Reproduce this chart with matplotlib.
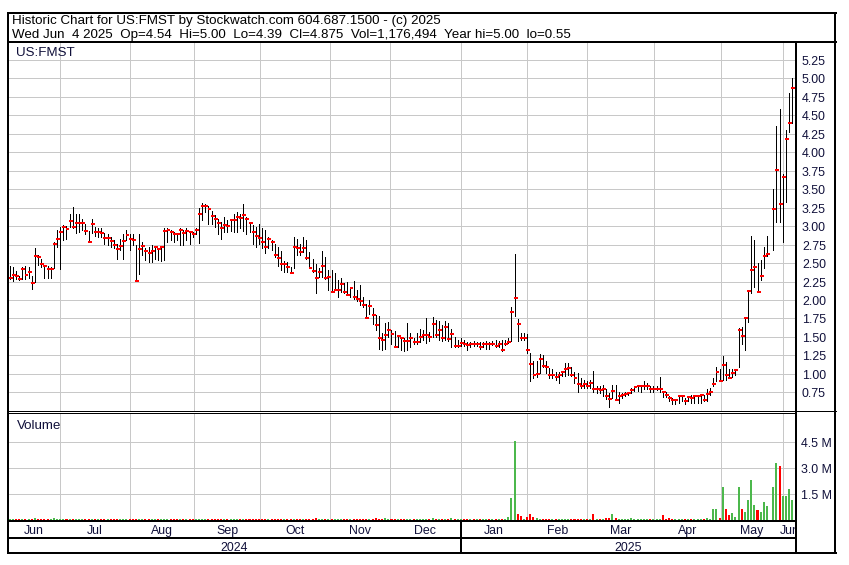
import numpy as np
import matplotlib
matplotlib.use("Agg")
import matplotlib.pyplot as plt
from matplotlib.transforms import blended_transform_factory, offset_copy

plt.rcParams['font.family'] = ['Liberation Sans', 'DejaVu Sans']

nan = float('nan')

# ---------------- data (one bar per trading day, Jun 2024 - Jun 4 2025) ----------------
highs = [
    2.46, 2.44, 2.39, 2.33, 2.45, 2.46, 2.45, 2.32, 2.70, 2.61,
    2.55, 2.48, 2.46, 2.45, 2.79, 2.95, 2.99, 3.01, 3.00, 3.16,
    3.26, 3.16, 3.16, 3.10, 3.03, 2.94, 3.10, 2.99, 2.98, 2.97,
    2.91, 2.89, 2.85, 2.81, 2.76, 2.82, 2.90, 2.95, 2.89, 2.90,
    2.74, 2.90, 2.79, 2.71, 2.72, 2.74, 2.72, 2.71, 2.73, 2.97,
    2.97, 2.95, 2.92, 2.91, 2.97, 2.95, 2.97, 2.94, 2.92, 2.97,
    3.24, 3.31, 3.30, 3.27, 3.21, 3.15, 3.10, 3.06, 3.12, 3.08,
    3.10, 3.17, 3.19, 3.17, 3.30, 3.12, 3.03, 3.01, 2.99, 3.03,
    2.97, 2.95, 2.85, 2.81, 2.76, 2.72, 2.66, 2.53, 2.52, 2.45,
    2.85, 2.83, 2.76, 2.85, 2.81, 2.65, 2.55, 2.49, 2.43, 2.66,
    2.58, 2.40, 2.40, 2.36, 2.27, 2.30, 2.23, 2.25, 2.18, 2.26,
    2.14, 2.20, 2.04, 1.95, 2.00, 1.89, 1.80, 1.78, 1.55, 1.69,
    1.70, 1.59, 1.58, 1.52, 1.50, 1.48, 1.69, 1.55, 1.48, 1.55,
    1.61, 1.59, 1.75, 1.57, 1.77, 1.73, 1.71, 1.66, 1.71, 1.69,
    1.61, 1.50, 1.46, 1.48, 1.46, 1.43, 1.43, 1.44, 1.43, 1.43,
    1.43, 1.44, 1.43, 1.44, 1.46, 1.45, 1.46, 1.46, 1.48, 1.91,
    2.62, 1.74, 1.55, 1.55, 1.54, 1.28, 1.17, 1.17, 1.27, 1.26,
    1.17, 1.08, 1.06, 1.03, 1.03, 1.04, 1.15, 1.15, 1.10, 1.03,
    1.01, 0.94, 0.92, 0.90, 0.92, 1.04, 0.83, 0.83, 0.85, 0.79,
    0.74, 0.85, 0.85, 0.76, 0.74, 0.76, 0.76, 0.81, 0.83, 0.85,
    0.85, 0.90, 0.88, 0.83, 0.83, 0.83, 0.96, 0.76, 0.76, 0.70,
    0.67, 0.65, 0.72, 0.72, 0.67, 0.70, 0.72, 0.70, 0.72, 0.71,
    0.72, 0.79, 0.81, 0.95, 1.10, 1.06, 1.24, 1.16, 1.07, 1.07,
    1.07, 1.62, 1.64, 1.77, 2.14, 2.86, 2.81, 2.50, 2.54, 2.72,
    2.86, nan, 3.50, 4.35, 4.59, 3.70, 4.30, 4.80, 5.00,
]
lows = [
    2.28, 2.26, 2.28, 2.27, 2.29, 2.29, 2.30, 2.15, 2.25, 2.48,
    2.45, 2.30, 2.30, 2.30, 2.43, 2.72, 2.42, 2.81, 2.83, 2.99,
    2.98, 2.91, 2.92, 2.95, 2.90, 2.79, 2.91, 2.86, 2.85, 2.85,
    2.76, 2.74, 2.72, 2.70, 2.55, 2.67, 2.55, 2.81, 2.67, 2.75,
    2.26, 2.35, 2.61, 2.54, 2.52, 2.52, 2.56, 2.54, 2.53, 2.54,
    2.79, 2.81, 2.79, 2.81, 2.74, 2.75, 2.81, 2.76, 2.85, 2.90,
    2.77, 3.08, 3.19, 3.03, 3.03, 2.99, 2.90, 2.82, 2.92, 2.92,
    2.94, 2.92, 2.92, 2.97, 2.93, 2.90, 2.92, 2.76, 2.72, 2.76,
    2.70, 2.63, 2.70, 2.67, 2.58, 2.46, 2.40, 2.38, 2.38, 2.36,
    2.43, 2.61, 2.61, 2.65, 2.56, 2.43, 2.38, 2.10, 2.31, 2.31,
    2.29, 2.13, 2.11, 2.13, 2.04, 2.11, 2.09, 2.07, 2.04, 2.02,
    1.98, 1.93, 1.91, 1.75, 1.81, 1.68, 1.59, 1.34, 1.33, 1.34,
    1.50, 1.41, 1.36, 1.37, 1.32, 1.31, 1.32, 1.37, 1.40, 1.40,
    1.43, 1.46, 1.42, 1.45, 1.50, 1.50, 1.46, 1.45, 1.46, 1.44,
    1.37, 1.37, 1.37, 1.38, 1.38, 1.32, 1.37, 1.38, 1.38, 1.34,
    1.37, 1.34, 1.34, 1.39, 1.36, 1.37, 1.31, 1.39, 1.42, 1.44,
    1.79, 1.44, 1.46, 1.46, 1.28, 0.90, 0.94, 0.96, 1.01, 1.10,
    1.01, 0.94, 0.94, 0.92, 0.88, 0.97, 0.97, 0.99, 0.97, 0.88,
    0.75, 0.81, 0.81, 0.81, 0.81, 0.76, 0.74, 0.74, 0.70, 0.66,
    0.55, 0.67, 0.65, 0.61, 0.67, 0.70, 0.72, 0.74, 0.77, 0.77,
    0.76, 0.79, 0.79, 0.76, 0.76, 0.78, 0.76, 0.69, 0.69, 0.63,
    0.59, 0.59, 0.61, 0.64, 0.59, 0.63, 0.61, 0.60, 0.61, 0.61,
    0.63, 0.63, 0.72, 0.84, 0.90, 0.90, 0.92, 0.92, 0.94, 0.96,
    0.98, 1.10, 1.41, 1.32, 1.70, 2.09, 2.18, 2.11, 2.27, 2.43,
    2.59, nan, 2.68, 3.06, 3.05, 2.79, 3.32, 4.27, 4.39,
]
closes = [
    2.30, 2.34, 2.32, 2.29, 2.42, 2.34, 2.38, 2.23, 2.59, 2.58,
    2.49, 2.46, 2.42, 2.42, 2.76, 2.82, 2.92, 2.99, 2.96, 3.07,
    2.99, 3.04, 3.04, 3.04, 2.94, 2.78, 3.03, 2.92, 2.92, 2.91,
    2.84, 2.84, 2.80, 2.74, 2.69, 2.73, 2.80, 2.88, 2.83, 2.81,
    2.26, 2.69, 2.73, 2.66, 2.64, 2.66, 2.72, 2.69, 2.72, 2.93,
    2.95, 2.92, 2.90, 2.89, 2.95, 2.91, 2.94, 2.92, 2.89, 2.95,
    3.16, 3.27, 3.27, 3.23, 3.14, 3.09, 3.04, 2.98, 3.02, 3.00,
    3.08, 3.08, 3.12, 3.11, 3.15, 3.10, 3.04, 2.92, 2.87, 2.84,
    2.78, 2.72, 2.83, 2.78, 2.61, 2.57, 2.49, 2.49, 2.45, 2.36,
    2.72, 2.71, 2.65, 2.71, 2.57, 2.43, 2.39, 2.30, 2.38, 2.46,
    2.30, 2.31, 2.11, 2.13, 2.14, 2.21, 2.11, 2.07, 2.16, 2.04,
    2.01, 1.98, 1.93, 1.76, 1.92, 1.80, 1.66, 1.48, 1.46, 1.53,
    1.60, 1.54, 1.37, 1.51, 1.48, 1.45, 1.45, 1.48, 1.43, 1.43,
    1.50, 1.53, 1.53, 1.50, 1.67, 1.52, 1.60, 1.48, 1.63, 1.47,
    1.54, 1.38, 1.38, 1.42, 1.40, 1.39, 1.41, 1.40, 1.41, 1.36,
    1.40, 1.41, 1.40, 1.41, 1.38, 1.40, 1.33, 1.41, 1.43, 1.84,
    2.03, 1.68, 1.48, 1.48, 1.32, 1.13, 0.99, 1.00, 1.20, 1.11,
    1.10, 0.99, 0.99, 0.96, 0.99, 1.03, 1.07, 1.08, 0.98, 0.95,
    0.86, 0.84, 0.87, 0.84, 0.88, 0.79, 0.79, 0.78, 0.79, 0.70,
    0.66, 0.77, 0.65, 0.70, 0.71, 0.73, 0.74, 0.78, 0.82, 0.83,
    0.83, 0.84, 0.84, 0.80, 0.80, 0.80, 0.80, 0.75, 0.71, 0.68,
    0.65, 0.65, 0.70, 0.70, 0.64, 0.69, 0.68, 0.70, 0.70, 0.71,
    0.65, 0.73, 0.76, 0.87, 1.02, 0.91, 1.12, 0.99, 0.95, 1.01,
    1.05, 1.60, 1.51, 1.75, 2.12, 2.41, 2.45, 2.11, 2.33, 2.59,
    2.62, nan, 3.23, 3.76, 3.30, 3.66, 4.18, 4.39, 4.875,
]
volumes_m = [
    0.06, 0.06, 0.05, 0.06, 0.06, 0.06, 0.05, 0.06, 0.14, 0.06,
    0.06, 0.05, 0.06, 0.06, 0.10, 0.07, 0.06, 0.06, 0.05, 0.06,
    0.06, 0.06, 0.06, 0.05, 0.06, 0.06, 0.06, 0.06, 0.06, 0.05,
    0.06, 0.06, 0.06, 0.06, 0.05, 0.06, 0.06, 0.06, 0.06, 0.06,
    0.07, 0.06, 0.06, 0.06, 0.06, 0.05, 0.06, 0.06, 0.06, 0.06,
    0.06, 0.06, 0.05, 0.06, 0.06, 0.06, 0.06, 0.06, 0.06, 0.06,
    0.07, 0.06, 0.06, 0.06, 0.06, 0.06, 0.05, 0.06, 0.06, 0.06,
    0.06, 0.06, 0.06, 0.06, 0.06, 0.06, 0.06, 0.06, 0.06, 0.06,
    0.06, 0.06, 0.06, 0.06, 0.06, 0.06, 0.06, 0.06, 0.06, 0.06,
    0.06, 0.06, 0.06, 0.06, 0.06, 0.06, 0.06, 0.12, 0.06, 0.06,
    0.06, 0.06, 0.06, 0.06, 0.06, 0.06, 0.06, 0.06, 0.06, 0.06,
    0.06, 0.06, 0.06, 0.06, 0.06, 0.06, 0.11, 0.06, 0.06, 0.11,
    0.06, 0.06, 0.06, 0.06, 0.06, 0.08, 0.06, 0.06, 0.06, 0.06,
    0.06, 0.06, 0.06, 0.06, 0.14, 0.06, 0.06, 0.06, 0.06, 0.06,
    0.12, 0.06, 0.06, 0.06, 0.06, 0.06, 0.06, 0.06, 0.06, 0.06,
    0.06, 0.06, 0.06, 0.06, 0.06, 0.06, 0.07, 0.08, 0.17, 1.24,
    4.53, 0.32, 0.22, 0.07, 0.17, 0.32, 0.17, 0.12, 0.08, 0.07,
    0.07, 0.07, 0.06, 0.07, 0.06, 0.06, 0.06, 0.06, 0.06, 0.06,
    0.07, 0.07, 0.06, 0.06, 0.06, 0.37, 0.07, 0.07, 0.07, 0.14,
    0.10, 0.37, 0.12, 0.07, 0.07, 0.06, 0.06, 0.10, 0.07, 0.07,
    0.06, 0.06, 0.06, 0.06, 0.06, 0.06, 0.06, 0.26, 0.07, 0.10,
    0.06, 0.06, 0.06, 0.06, 0.06, 0.06, 0.06, 0.06, 0.06, 0.06,
    0.06, 0.10, 0.07, 0.61, 0.61, 0.09, 1.93, 0.66, 0.26, 0.43,
    0.20, 1.93, 0.66, 0.49, 1.18, 2.28, 0.89, 0.55, 0.49, 1.01,
    0.78, nan, 1.93, 3.26, 3.10, 1.41, 1.41, 1.76, 1.18,
]
month_names = ['Jun', 'Jul', 'Aug', 'Sep', 'Oct', 'Nov', 'Dec',
               'Jan', 'Feb', 'Mar', 'Apr', 'May', 'Jun']
# bar index at which each month after the first begins
month_starts = [16.0, 38.2, 58.5, 79.4, 101.6, 120.6, 142.9,
                163.9, 183.1, 204.1, 225.4, 245.2]
year_names = ['2024', '2025']
year_start_month = 'Jan'
price_ticks = [0.75, 1.00, 1.25, 1.50, 1.75, 2.00, 2.25, 2.50, 2.75,
               3.00, 3.25, 3.50, 3.75, 4.00, 4.25, 4.50, 4.75, 5.00, 5.25]
vol_ticks = [1.5, 3.0, 4.5]
title_line1 = "Historic Chart for US:FMST by Stockwatch.com 604.687.1500 - (c) 2025"
title_line2 = ("Wed Jun  4 2025  Op=4.54  Hi=5.00  Lo=4.39  Cl=4.875  "
               "Vol=1,176,494  Year hi=5.00  lo=0.55")
symbol = "US:FMST"

# ---------------- layout ----------------
W, H = 849, 565
fig = plt.figure(figsize=(W / 100, H / 100), dpi=100)
fig.patch.set_facecolor('white')
PX = 0.72  # one pixel in points
GRID = '#c8c8c8'
TXT = '#000000'
LBL = '#10103a'
GREEN = '#4cb84c'
RED = '#ff0000'
FS = 8.9
FS_HEAD = 9.6


def rect(x0, y0, x1, y1):
    return [x0 / W, 1 - y1 / H, (x1 - x0) / W, (y1 - y0) / H]


hi = np.array(highs, float)
lo = np.array(lows, float)
cl = np.array(closes, float)
vol = np.array(volumes_m, float)
n = len(cl)
idx = np.arange(n)
valid = ~np.isnan(cl)
XLIM = (-0.54, n + 0.2)

# volume colour: up (green) / down (red) against the previous close
last = cl[0]
up = []
for c in cl:
    if np.isnan(c):
        up.append(True)
        continue
    up.append(c >= last)
    last = c
vcolors = np.array([GREEN if u else RED for u in up])

# price panel
pax = fig.add_axes(rect(8, 41, 796, 411))
pax.set_xlim(*XLIM)
pax.set_ylim(0.498, 5.505)
pax.axis('off')
for t in price_ticks:
    pax.axhline(t, color=GRID, lw=PX, zorder=1, antialiased=False)
for m in month_starts:
    pax.axvline(m, color=GRID, lw=PX, zorder=1, antialiased=False)
pax.vlines(idx[valid], lo[valid], hi[valid], color='black', lw=PX,
           zorder=3, antialiased=False)
pax.hlines(cl[valid], idx[valid] - 0.3, idx[valid] + 0.95, color=RED,
           lw=2 * PX, zorder=4, antialiased=False)
tr = offset_copy(blended_transform_factory(pax.transAxes, pax.transData),
                 fig=fig, y=-5, units='dots')
for t in price_ticks:
    pax.text((802 - 8) / 788, t, f"{t:.2f}", transform=tr, ha='left',
             va='baseline', fontsize=FS, color=LBL, clip_on=False)

# volume panel
vax = fig.add_axes(rect(8, 413, 796, 520))
vax.set_xlim(*XLIM)
vax.set_ylim(0, 6.17)
vax.axis('off')
for t in vol_ticks:
    vax.axhline(t, color=GRID, lw=PX, zorder=1, antialiased=False)
for m in month_starts:
    vax.axvline(m, color=GRID, lw=PX, zorder=1, antialiased=False)
vv = ~np.isnan(vol)
vax.bar(idx[vv], vol[vv], width=0.64, color=vcolors[vv], linewidth=0,
        zorder=3, antialiased=False)
trv = offset_copy(blended_transform_factory(vax.transAxes, vax.transData),
                  fig=fig, y=-5, units='dots')
for t in vol_ticks:
    vax.text((801 - 8) / 788, t, f"{t:.1f} M", transform=trv, ha='left',
             va='baseline', fontsize=FS, color=LBL, clip_on=False)

# month row
bounds = [XLIM[0]] + month_starts + [XLIM[1]]
max_ = fig.add_axes(rect(8, 521, 796, 537.5))
max_.set_xlim(*XLIM)
max_.set_ylim(0, 1)
max_.axis('off')
for k, name in enumerate(month_names):
    cx = (bounds[k] + bounds[k + 1]) / 2
    max_.text(cx, 0.2, name, ha='center', va='baseline', fontsize=FS,
              color=LBL, clip_on=True)
jan_pos = month_starts[month_names.index(year_start_month) - 1]
max_.axvline(jan_pos, color='black', lw=2 * PX, antialiased=False)

# year row
yax = fig.add_axes(rect(8, 537.5, 796, 553))
yax.set_xlim(*XLIM)
yax.set_ylim(0, 1)
yax.axis('off')
ybounds = [XLIM[0], jan_pos, XLIM[1]]
for k, name in enumerate(year_names):
    cx = (ybounds[k] + ybounds[k + 1]) / 2
    yax.text(cx, 0.14, name, ha='center', va='baseline', fontsize=FS,
             color=LBL)
yax.axvline(jan_pos, color='black', lw=2 * PX, antialiased=False)

# overlay for frames and header text (pixel coordinates)
ov = fig.add_axes([0, 0, 1, 1], zorder=10)
ov.set_xlim(0, W)
ov.set_ylim(H, 0)
ov.axis('off')
ov.patch.set_alpha(0)


def seg(x0, y0, x1, y1, w=2):
    ov.plot([x0, x1], [y0, y1], color='black', lw=w * PX,
            solid_capstyle='projecting', antialiased=False)


seg(8, 12.5, 836, 12.5)
seg(8, 552.5, 836, 552.5)
seg(8, 12.5, 8, 552.5)
seg(835.5, 12.5, 835.5, 552.5)
seg(8, 41.5, 836, 41.5)
seg(796, 41.5, 796, 552.5)
seg(8, 411, 836, 411, 1)
seg(8, 413, 796, 413, 1)
seg(8, 520.5, 796, 520.5)
seg(8, 537.5, 796, 537.5)

ov.text(12, 24, title_line1, fontsize=FS_HEAD, color=TXT, va='baseline', ha='left')
ov.text(12, 37.7, title_line2, fontsize=FS_HEAD, color=TXT, va='baseline', ha='left')
ov.text(16.5, 56.5, symbol, fontsize=FS_HEAD, color=LBL, va='baseline', ha='left')
ov.text(16.5, 429, "Volume", fontsize=FS_HEAD, color=LBL, va='baseline', ha='left')

fig.savefig('out.png', dpi=100, facecolor='white')
